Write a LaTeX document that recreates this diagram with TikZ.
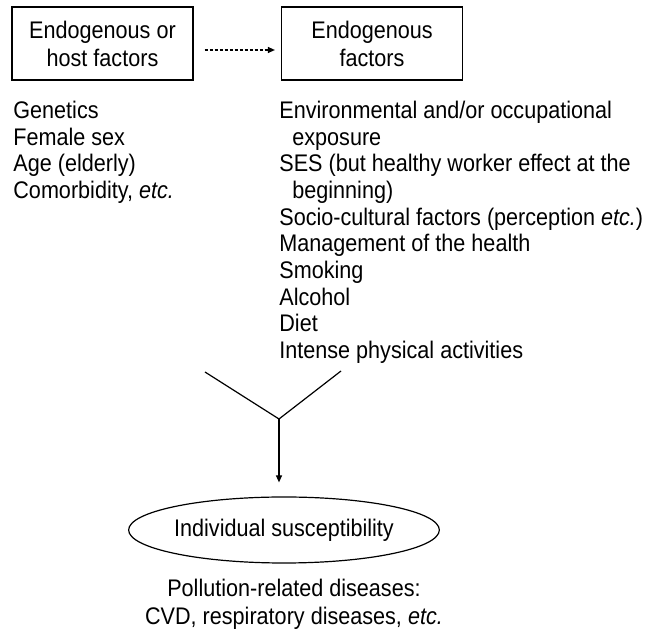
\documentclass[tikz,border=0pt]{standalone}
\usepackage{fontspec}
\setmainfont{Liberation Sans}[FakeStretch=0.9]
\usetikzlibrary{arrows.meta, shapes.geometric}

\begin{document}
\begin{tikzpicture}[x=0.5pt, y=-0.5pt, >={Triangle[length=3.5pt, width=3pt]},
  every node/.style={font=\fontsize{12}{14}\selectfont, inner sep=0pt},
  factor box/.style={draw, line width=0.6pt, minimum width=90.5pt, minimum height=36.5pt, align=center},
  list line/.style={anchor=base west},
  susceptible/.style={draw, ellipse, line width=0.6pt, minimum width=141pt, minimum height=33pt}]

\useasboundingbox (0,0) rectangle (645,636);

\node [factor box] (host) at (102.5,43.5) {Endogenous or\\host factors};
\node [factor box] (exo) at (372,43.5) {Endogenous\\factors};

\draw [->, line width=0.6pt, dash pattern=on 1.5pt off 1pt, shorten <=5.5pt, shorten >=3pt]
  ([yshift=-3.25pt]host.east) -- ([yshift=-3.25pt]exo.west);

\foreach \t [count=\i] in {Genetics, Female sex, Age (elderly), {Comorbidity, \textit{etc.}}}
  \node [list line] (host-\i) at (13,91.83+\i*26.67) {\t};

\foreach \t/\d [count=\i] in {{Environmental and/or occupational}/0, exposure/13,
    {SES (but healthy worker effect at the}/0, {beginning)}/13,
    {Socio-cultural factors (perception \textit{etc.})}/0, {Management of the health}/0,
    Smoking/0, Alcohol/0, Diet/0, {Intense physical activities}/0}
  \node [list line] (exo-\i) at (279+\d,91.83+\i*26.67) {\t};

\coordinate (v-left) at (205,372);
\coordinate (v-right) at (341,371);
\coordinate (join) at (279,419);
\draw [line width=0.6pt] (v-left) -- (join) -- (v-right);

\node [susceptible] (indiv) at (284,530) {Individual susceptibility};
\draw [->, line width=0.6pt, shorten >=7pt] (join) -- (join |- indiv.north);

\node [align=center] (disease) at (294,604)
  {Pollution-related diseases:\\CVD, respiratory diseases, \textit{etc.}};

\end{tikzpicture}
\end{document}
